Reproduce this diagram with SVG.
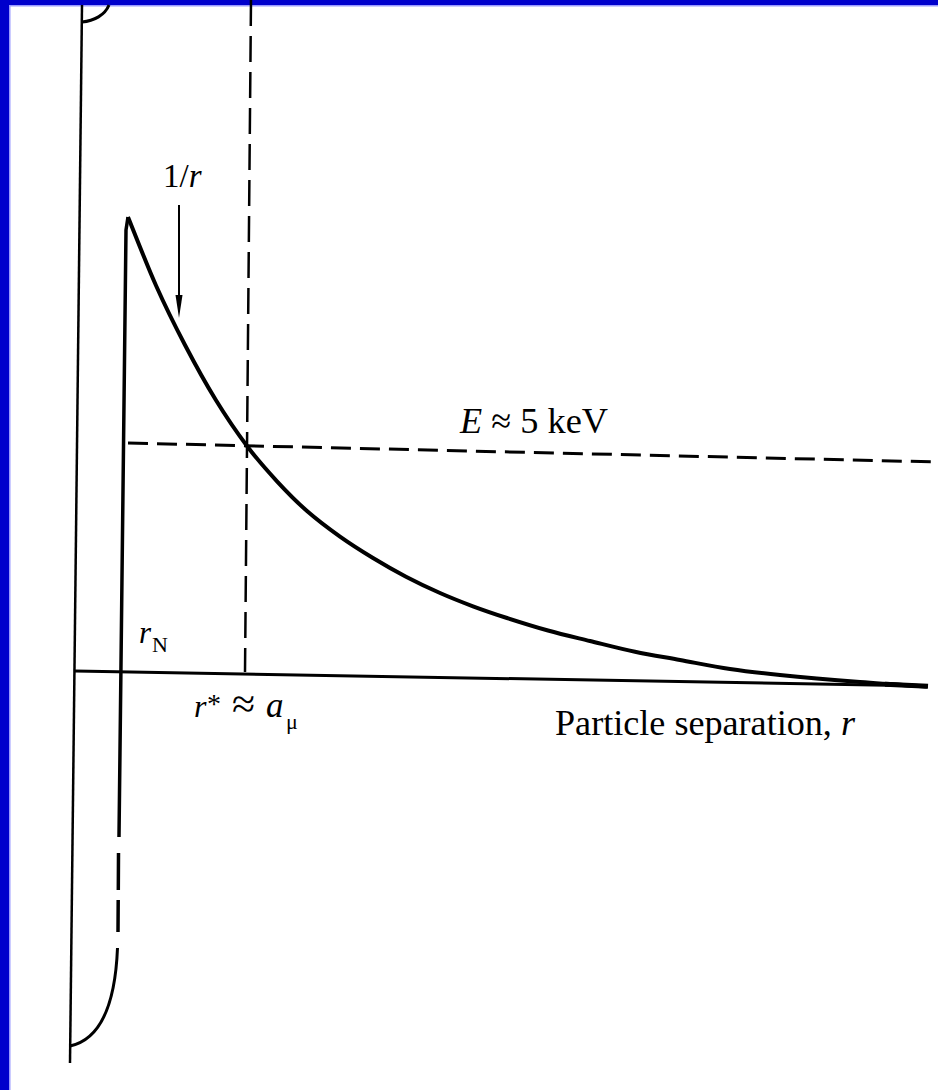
<svg xmlns="http://www.w3.org/2000/svg" width="938" height="1090" viewBox="0 0 938 1090">
  <style>
    .ln { fill: none; stroke: #000; stroke-linecap: butt; stroke-linejoin: round; }
    .txt { font-family: "Liberation Serif", "Times New Roman", serif; fill: #000; }
    .it { font-style: italic; }
  </style>
  <rect x="0" y="0" width="938" height="1090" fill="#ffffff"/>
  <!-- frame -->
  <g id="frame">
    <rect x="0" y="0" width="938" height="5" fill="#0000cc"/>
    <rect x="0" y="0" width="9" height="1090" fill="#0000cc"/>
    <rect x="9" y="5" width="929" height="1.5" fill="#9a9aff"/>
    <rect x="9" y="5" width="1.5" height="1085" fill="#9a9aff"/>
  </g>

  <!-- axes -->
  <g id="axes">
    <path class="ln" d="M82,5 L70,1063" stroke-width="2.5"/>
    <path class="ln" d="M82,22 C94,21 105,15 109,5" stroke-width="3"/>
    <path class="ln" d="M75,671 L928,686" stroke-width="3"/>
  </g>

  <!-- potential well wall -->
  <g id="well">
    <path class="ln" d="M119,837 L126,230 L128,217" stroke-width="3.5"/>
    <path class="ln" d="M118.5,853 L118.3,890 M118.2,900 L118,932" stroke-width="3.5"/>
    <path class="ln" d="M117.5,948 C115,1010 98,1040 70,1046" stroke-width="3"/>
  </g>

  <!-- Coulomb curve -->
  <g id="curve">
    <path class="ln" stroke-width="4" d="M128,217 C132.67,228.42 146.5,264.17 156,285.5 C165.5,306.83 175,325.87 185,345 C195,364.13 205.67,383.47 216,400.3 C226.33,417.13 236.83,432.5 247,446 C257.17,459.5 267,470.47 277,481.3 C287,492.13 296.5,501.78 307,511 C317.5,520.22 329,528.77 340,536.6 C351,544.43 362,551.32 373,558 C384,564.68 394.83,570.87 406,576.7 C417.17,582.53 428.83,588.07 440,593 C451.17,597.93 461.83,602.13 473,606.3 C484.17,610.47 494.5,613.97 507,618 C519.5,622.03 534.17,626.67 548,630.5 C561.83,634.33 575.5,637.45 590,641 C604.5,644.55 620,648.63 635,651.8 C650,654.97 664.17,657.13 680,660 C695.83,662.87 713.33,666.5 730,669 C746.67,671.5 758.33,672.83 780,675 C801.67,677.17 835.5,680.08 860,682 C884.5,683.92 915.83,685.75 927,686.5"/>
    <path class="ln" d="M885,684.3 L928,686.3" stroke-width="5"/>
  </g>

  <!-- dashed guides and arrow -->
  <g id="connectors">
    <path class="ln" d="M251,0 L245,672" stroke-width="2.5" stroke-dasharray="26 10"/>
    <path class="ln" d="M128,443 L938,462" stroke-width="3" stroke-dasharray="20 9"/>
    <path class="ln" d="M179,205 L179,300" stroke-width="2"/>
    <polygon points="175.5,295 182.5,295 179,318" fill="#000"/>
  </g>

  <!-- labels -->
  <g id="label-1r">
    <text class="txt" x="163" y="187" font-size="33">1/<tspan class="it">r</tspan></text>
  </g>
  <g id="label-E">
    <text class="txt" x="460" y="433" font-size="36" textLength="148" lengthAdjust="spacingAndGlyphs"><tspan class="it">E</tspan> ≈ 5 keV</text>
  </g>
  <g id="label-rN">
    <text class="txt it" x="139" y="643" font-size="31">r</text>
    <text class="txt" x="152" y="652" font-size="22">N</text>
  </g>
  <g id="label-rstar">
    <text class="txt it" x="194" y="717" font-size="32">r</text>
    <text class="txt" x="207" y="713" font-size="28">*</text>
    <text class="txt" x="232" y="718" font-size="42">≈</text>
    <text class="txt it" x="266" y="717" font-size="35">a</text>
    <text class="txt" x="286" y="729" font-size="22">μ</text>
  </g>
  <g id="label-axis">
    <text class="txt" x="555" y="735" font-size="35" textLength="300" lengthAdjust="spacingAndGlyphs">Particle separation, <tspan class="it">r</tspan></text>
  </g>
</svg>
